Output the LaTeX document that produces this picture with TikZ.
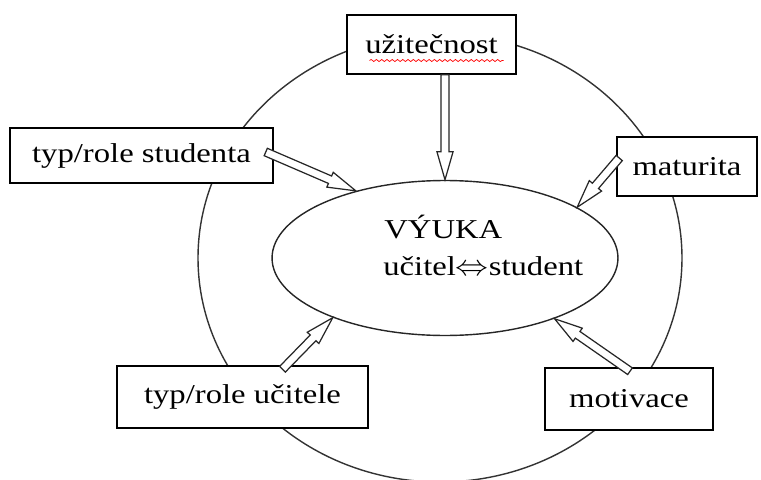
\documentclass[tikz,border=0pt]{standalone}
\usepackage{fontspec}
\setmainfont{Liberation Serif}[FakeStretch=1.2]
\usepackage{tikz}
\usetikzlibrary{calc,shapes.geometric,decorations.pathmorphing}

\tikzset{
    box/.style={draw, fill=white, line width=0.9pt, inner sep=0pt, font=\fontsize{15.5}{21}\selectfont},
    hollow/.style={draw=black!85, fill=white, line width=0.7pt, line join=miter},
}
% dutá šipka z bodu #1 do bodu #2
\newcommand{\hollowarrow}[2]{%
    \draw[hollow] let \p1=($(#2)-(#1)$), \n1={atan2(\y1,\x1)}, \n2={veclen(\x1,\y1)} in
        [shift={(#1)}, rotate=\n1]
        (0pt,-2.3pt) -- ({(\n2-16)*1pt},-2.3pt) -- ({(\n2-16)*1pt},-4.6pt) -- ({\n2*1pt},0pt)
        -- ({(\n2-16)*1pt},4.6pt) -- ({(\n2-16)*1pt},2.3pt) -- (0pt,2.3pt) -- cycle;}

\begin{document}
\begin{tikzpicture}[x=0.02cm, y=-0.02cm]
    \useasboundingbox (0,0) rectangle (761,480);

    \draw[line width=0.8pt, black!80] (440,258) ellipse [x radius=242, y radius=224];
    \node[draw, ellipse, line width=0.8pt, black!85, minimum width=6.92cm, minimum height=3.1cm, inner sep=0pt] (vyuka) at (445,258) {};
    \node[anchor=base west, inner sep=0pt, font=\fontsize{15.5}{21}\selectfont] (nadpis) at (384,238) {VÝUKA};
    \node[anchor=base west, inner sep=0pt, font=\fontsize{15.5}{21}\selectfont] (vztah) at (383,275) {učitel\scalebox{1.3}[1.15]{$\Leftrightarrow$}student};

    \node[box, minimum width=3.38cm, minimum height=1.18cm] (util) at (431.5,44.5) {užitečnost};
    \node[box, minimum width=5.26cm, minimum height=1.10cm] (studenta) at (141.5,155.5) {typ/role studenta};
    \node[box, minimum width=2.80cm, minimum height=1.18cm] (maturita) at (687,166.5) {maturita};
    \node[box, minimum width=5.02cm, minimum height=1.24cm] (ucitele) at (242.5,397) {typ/role učitele};
    \node[box, minimum width=3.36cm, minimum height=1.24cm] (motivace) at (629,399) {motivace};

    % vlnovka pod slovem
    \draw[red, decorate, decoration={snake, amplitude=0.6pt, segment length=3pt}] ($(util.center)+(-62,16)$) -- ++(134,0);

    \coordinate (a1) at (util.south -| vyuka.north);
    \coordinate (a2) at ($(studenta.east)+(-8,-3.5)$);
    \coordinate (a3) at ($(maturita.west)+(3,-8.5)$);
    \coordinate (a4) at ($(ucitele.north)+(40,4)$);
    \coordinate (a5) at ($(motivace.north)+(1,4)$);

    \hollowarrow{a1}{vyuka.north}
    \hollowarrow{a2}{vyuka.143}
    \hollowarrow{a3}{vyuka.21}
    \hollowarrow{a4}{vyuka.208}
    \hollowarrow{a5}{vyuka.-29}
\end{tikzpicture}
\end{document}
